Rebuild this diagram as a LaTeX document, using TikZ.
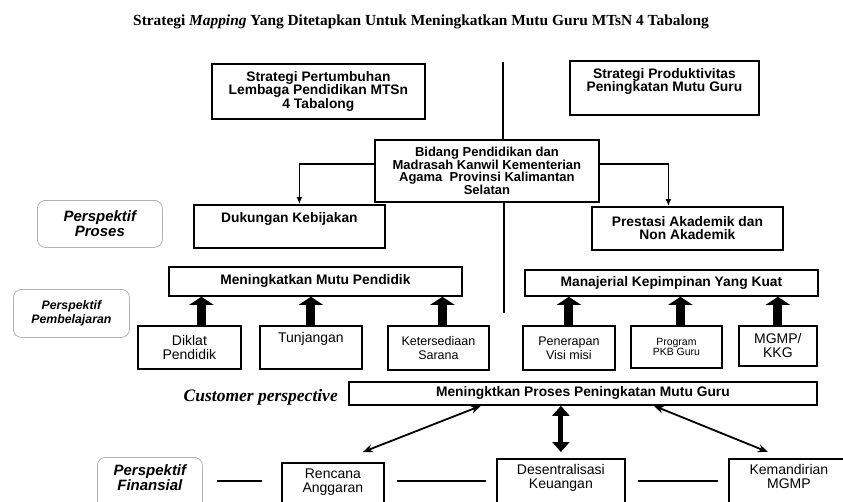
\documentclass[tikz,border=0pt]{standalone}
\usepackage{fontspec}
\setmainfont{Liberation Serif}
\setsansfont{Liberation Sans}
\usepackage{tikz}
\usetikzlibrary{arrows.meta,positioning,calc}

\begin{document}
\begin{tikzpicture}[x=1pt,y=-1pt,line width=1.8pt]
  \tikzstyle{box}=[draw,line width=1.8pt,anchor=north west,align=center,inner sep=3pt,font=\sffamily\bfseries\fontsize{13.8}{13.2}\selectfont]
  \tikzstyle{sbox}=[box,font=\sffamily\fontsize{14}{14}\selectfont]
  \tikzstyle{persp}=[draw=gray!60,line width=0.8pt,rounded corners=8pt,anchor=north west,align=center,inner sep=3pt,font=\sffamily\bfseries\itshape\fontsize{15}{15}\selectfont]
  \tikzstyle{arr}=[-{Latex[length=7pt,width=6pt]}]
  \tikzstyle{fat}=[line width=9pt,-{Triangle[width=24pt,length=8pt]}]
  \tikzstyle{dbl}=[{Stealth[length=10pt,width=8pt]}-{Stealth[length=10pt,width=8pt]}]
  \tikzstyle{link}=[line width=2.5pt,shorten <=12pt,shorten >=10pt]

  \useasboundingbox (0,0) rectangle (843,501);
  \clip (0,0) rectangle (843,501);

  \node[font=\bfseries\fontsize{15.4}{16}\selectfont,anchor=base] (title) at (421,25) {Strategi \textit{Mapping} Yang Ditetapkan Untuk Meningkatkan Mutu Guru MTsN 4 Tabalong};

  \node[box,minimum width=213pt,minimum height=55pt] (tumbuh) at (211,63) {Strategi Pertumbuhan\\Lembaga Pendidikan MTSn\\4 Tabalong};
  \node[box,minimum width=189pt,text height=28pt,text depth=20pt] (produk) at (569,60) {Strategi Produktivitas\\Peningkatan Mutu Guru};
  \node[box,minimum width=224pt,minimum height=62pt,font=\sffamily\bfseries\fontsize{13}{11.7}\selectfont] (bidang) at (374,139) {Bidang Pendidikan dan\\Madrasah Kanwil Kementerian\\Agama\ \ Provinsi Kalimantan\\Selatan};
  \node[box,minimum width=191pt,text height=15pt,text depth=22pt] (dukung) at (193,204) {Dukungan Kebijakan};
  \node[box,minimum width=191pt,minimum height=43pt] (prestasi) at (591,206) {Prestasi Akademik dan\\Non Akademik};
  \node[box,minimum width=293pt,minimum height=29pt] (mutu) at (168,266) {Meningkatkan Mutu Pendidik};
  \node[box,minimum width=293pt,minimum height=26pt] (manaj) at (524,269) {Manajerial Kepimpinan Yang Kuat};

  \node[sbox,minimum width=103pt,minimum height=43pt] (diklat) at (137,325) {Diklat\\Pendidik};
  \node[sbox,minimum width=102pt,text height=14pt,text depth=23pt] (tunj) at (259,325) {Tunjangan};
  \node[sbox,minimum width=101pt,minimum height=44pt,font=\sffamily\fontsize{12.5}{14}\selectfont] (sarana) at (387,325) {Ketersediaan\\Sarana};
  \node[sbox,minimum width=92pt,minimum height=44pt,font=\sffamily\fontsize{12.5}{14}\selectfont] (visi) at (522,325) {Penerapan\\Visi misi};
  \node[sbox,minimum width=91pt,minimum height=42pt,font=\sffamily\fontsize{10.5}{10.5}\selectfont] (pkb) at (630,325) {Program\\PKB Guru};
  \node[sbox,minimum width=78pt,minimum height=40pt] (mgmp) at (738,325) {MGMP/\\KKG};

  \node[box,minimum width=468pt,minimum height=23pt] (proses) at (348,381) {Meningktkan Proses Peningkatan Mutu Guru};
  \node[font=\bfseries\itshape\fontsize{17.5}{17.5}\selectfont,left=6pt of proses,yshift=-4pt] (cust) {Customer perspective};

  \node[sbox,minimum width=102pt,text height=27pt,text depth=15pt] (rencana) at (281,462) {Rencana\\Anggaran};
  \node[sbox,minimum width=128pt,text height=27pt,text depth=19pt] (desen) at (496,458) {Desentralisasi\\Keuangan};
  \node[sbox,minimum width=120pt,text height=27pt,text depth=19pt] (mandiri) at (728,458) {Kemandirian\\MGMP};

  \node[persp,minimum width=125pt,minimum height=47pt] (pproses) at (37,200) {Perspektif\\Proses};
  \node[persp,minimum width=116pt,minimum height=48pt,font=\sffamily\bfseries\itshape\fontsize{12.3}{14}\selectfont] (pbelajar) at (13,289) {Perspektif\\Pembelajaran};
  \node[persp,minimum width=105pt,text height=30pt,text depth=17pt,font=\sffamily\bfseries\itshape\fontsize{15}{13.5}\selectfont] (pfinans) at (97,457) {Perspektif\\Finansial};

  \coordinate (top) at (503,62);
  \coordinate (mid) at (504,313);
  \coordinate (fy) at (0,481);

  \draw (top) -- (top |- bidang.north);
  \draw (bidang.south -| mid) -- (mid);
  \draw[arr] ([yshift=7pt]bidang.west) -| ([xshift=10pt]dukung.north);
  \draw[arr] ([yshift=7pt]bidang.east) -| ([xshift=-19pt]prestasi.north);

  \path[fat]
  ($(diklat.north)+(12,0)$) edge ($(diklat.north |- mutu.south)+(12,0)$)
  (tunj)   edge (tunj |- mutu.south)
  ($(sarana.north)+(4,0)$) edge ($(sarana.north |- mutu.south)+(4,0)$)
  (visi)   edge (visi |- manaj.south)
  ($(pkb.north)+(4,0)$) edge ($(pkb.north |- manaj.south)+(4,0)$)
  (mgmp)   edge (mgmp |- manaj.south);

  \draw[dbl] ([xshift=-102pt]proses.south) -- ([xshift=30pt,yshift=10pt]rencana.north);
  \draw[dbl] ([xshift=71pt]proses.south) -- ([xshift=-21pt,yshift=6pt]mandiri.north);
  \draw[line width=5pt,{Triangle[width=17pt,length=10pt]}-{Triangle[width=17pt,length=10pt]},shorten >=6pt] (proses.south -| desen) -- (desen);

  \draw[link,shorten <=14pt,shorten >=19pt] (pfinans.east |- fy) -- (rencana.west |- fy);
  \draw[link] (rencana.east |- fy) -- (desen.west |- fy);
  \draw[link] (desen.east |- fy) -- (mandiri.west |- fy);
\end{tikzpicture}
\end{document}
